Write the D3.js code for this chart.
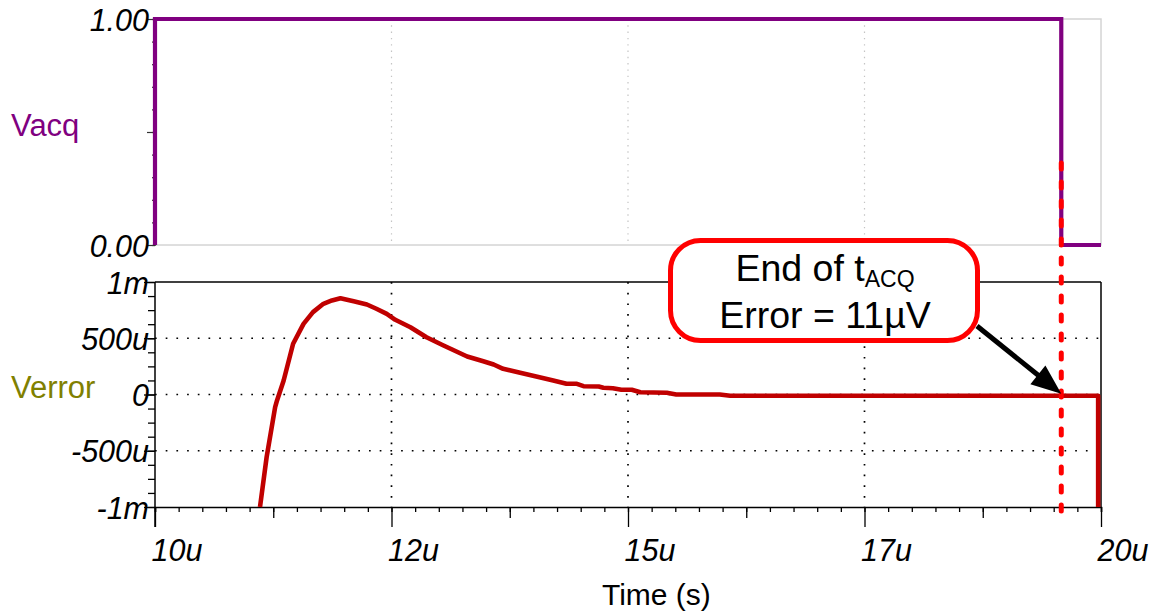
<!DOCTYPE html>
<html><head><meta charset="utf-8">
<script src="https://cdn.jsdelivr.net/npm/d3@7"></script>
<style>
html,body{margin:0;padding:0;background:#fff;}
svg{display:block;}
</style></head>
<body>
<svg id="c" width="1156" height="614"></svg>
<script>
// ---- data (time in µs, error in µV) ----
const vacqTime = [10, 10, 19.58, 19.58, 20];
const vacqValue = [0, 1, 1, 0, 0];
const verrTime = [11.11, 11.18, 11.27, 11.29, 11.36, 11.46, 11.57, 11.67, 11.78, 11.87, 11.96, 12.10, 12.24, 12.34, 12.45, 12.54, 12.70, 12.87, 13.05, 13.30, 13.47, 13.58, 13.68, 13.86, 14.03, 14.21, 14.35, 14.46, 14.53, 14.69, 14.74, 14.84, 14.93, 15.04, 15.13, 15.41, 15.51, 15.97, 16.08, 19.97, 19.97];
const verrValue = [-1000, -557, -113, -53, 124, 451, 628, 732, 806, 836, 856, 829, 800, 762, 717, 664, 598, 509, 436, 338, 296, 267, 228, 193, 160, 124, 95, 95, 74, 71, 60, 56, 42, 42, 20, 15, 0, 0, -11, -11, -1000];
const xTickValues = [10, 12.5, 15, 17.5, 20];
const xTickLabels = ["10u", "12u", "15u", "17u", "20u"];
const topTickValues = [0, 1];
const topTickLabels = ["0.00", "1.00"];
const botTickValues = [-1000, -500, 0, 500, 1000];
const botTickLabels = ["-1m", "-500u", "0", "500u", "1m"];
const tAcqEnd = 19.58;
const errorAtEnd = -11;

const svg = d3.select("#c");
const L = 155, R = 1101;
const x = d3.scaleLinear().domain([10, 20]).range([L, R]);
const yT = d3.scaleLinear().domain([0, 1]).range([245, 19]);
const yB = d3.scaleLinear().domain([-1000, 1000]).range([507, 282]);

const font = "'Liberation Sans', Arial, Helvetica, sans-serif";

// ---- top panel frame & grid ----
const gTop = svg.append("g");
gTop.append("rect").attr("x", L).attr("y", yT(1)).attr("width", R - L).attr("height", yT(0) - yT(1))
  .attr("fill", "none").attr("stroke", "#d4d4d4").attr("stroke-width", 1.5);
gTop.selectAll("line.vg").data(xTickValues.slice(1, 4)).enter().append("line")
  .attr("x1", d => x(d)).attr("x2", d => x(d)).attr("y1", yT(1)).attr("y2", yT(0))
  .attr("stroke", "#c4c4c4").attr("stroke-width", 1.2).attr("stroke-dasharray", "1.4,4.9");

// top left axis ticks
const topMinor = d3.range(0, 1.0001, 0.1);
gTop.append("g").attr("transform", `translate(${L},0)`)
  .call(d3.axisLeft(yT).tickValues(topMinor).tickSize(3).tickFormat(""))
  .call(g => { g.select(".domain").remove(); g.selectAll("line").attr("stroke", "#333").attr("stroke-width", 1.2); });
gTop.append("g").attr("transform", `translate(${L},0)`)
  .call(d3.axisLeft(yT).tickValues([0, 0.5, 1]).tickSize(8).tickFormat(""))
  .call(g => { g.select(".domain").attr("stroke", "#333"); g.selectAll("line").attr("stroke", "#333").attr("stroke-width", 1.2); });
gTop.selectAll("text.tl").data(topTickValues).enter().append("text")
  .attr("x", 149).attr("y", d => yT(d) + 12)
  .attr("text-anchor", "end").attr("font-family", font).attr("font-style", "italic")
  .attr("font-size", 30.5).attr("fill", "#000").text((d, i) => topTickLabels[i]);

// ---- bottom panel grid ----
const gBot = svg.append("g");
gBot.selectAll("line.hg").data([-500, 0, 500]).enter().append("line")
  .attr("x1", L).attr("x2", R).attr("y1", d => yB(d)).attr("y2", d => yB(d))
  .attr("stroke", "#000").attr("stroke-width", 1.7).attr("stroke-dasharray", "1.7,9");
gBot.selectAll("line.vg").data(xTickValues.slice(1, 4)).enter().append("line")
  .attr("x1", d => x(d)).attr("x2", d => x(d)).attr("y1", yB(1000)).attr("y2", yB(-1000))
  .attr("stroke", "#000").attr("stroke-width", 1.7).attr("stroke-dasharray", "1.7,9");
gBot.append("line").attr("x1", L).attr("x2", R).attr("y1", yB(1000)).attr("y2", yB(1000)).attr("stroke", "#000").attr("stroke-width", 1.5);
gBot.append("line").attr("x1", R).attr("x2", R).attr("y1", yB(1000)).attr("y2", yB(-1000)).attr("stroke", "#000").attr("stroke-width", 1.5);

// bottom left axis
gBot.append("g").attr("transform", `translate(${L},0)`)
  .call(d3.axisLeft(yB).tickValues(d3.range(-1000, 1001, 125)).tickSize(7).tickFormat(""))
  .call(g => { g.select(".domain").remove(); g.selectAll("line").attr("stroke", "#000").attr("stroke-width", 1.3); });
gBot.append("g").attr("transform", `translate(${L},0)`)
  .call(d3.axisLeft(yB).tickValues(botTickValues).tickSize(11).tickFormat(""))
  .call(g => { g.select(".domain").remove(); g.selectAll("line").attr("stroke", "#000").attr("stroke-width", 1.3); });
gBot.append("line").attr("x1", L).attr("x2", L).attr("y1", yB(1000)).attr("y2", 527).attr("stroke", "#000").attr("stroke-width", 1.5);
gBot.selectAll("text.bl").data(botTickValues).enter().append("text")
  .attr("x", 149).attr("y", d => yB(d) + 11.5)
  .attr("text-anchor", "end").attr("font-family", font).attr("font-style", "italic")
  .attr("font-size", 30.5).attr("fill", "#000").text((d, i) => botTickLabels[i]);

// bottom x axis
const xAxisY = yB(-1000);
const minorX = d3.range(10, 20.001, 0.25);
const midX = [11.25, 13.75, 16.25, 18.75];
gBot.append("g").attr("transform", `translate(0,${xAxisY})`)
  .call(d3.axisBottom(x).tickValues(minorX).tickSize(5).tickFormat(""))
  .call(g => { g.select(".domain").attr("stroke", "#000").attr("stroke-width", 1.5); g.selectAll("line").attr("stroke", "#000").attr("stroke-width", 1.3); });
gBot.append("g").attr("transform", `translate(0,${xAxisY})`)
  .call(d3.axisBottom(x).tickValues(midX).tickSize(11).tickFormat(""))
  .call(g => { g.select(".domain").remove(); g.selectAll("line").attr("stroke", "#000").attr("stroke-width", 1.3); });
gBot.append("g").attr("transform", `translate(0,${xAxisY})`)
  .call(d3.axisBottom(x).tickValues(xTickValues).tickSize(20).tickFormat((d, i) => xTickLabels[i]))
  .call(g => {
    g.select(".domain").remove();
    g.selectAll("line").attr("stroke", "#000").attr("stroke-width", 1.3);
    g.selectAll("text").attr("font-family", font).attr("font-style", "italic").attr("font-size", 30.5)
      .attr("fill", "#000").attr("text-anchor", "start").attr("x", -4).attr("y", 0).attr("dy", null)
      .attr("transform", "translate(0,54)");
  });

// axis titles
svg.append("text").attr("x", 11).attr("y", 136).attr("font-family", font).attr("font-size", 31)
  .attr("fill", "#800080").text("Vacq");
svg.append("text").attr("x", 11).attr("y", 398).attr("font-family", font).attr("font-size", 31)
  .attr("fill", "#808000").text("Verror");
svg.append("text").attr("x", x(15.3)).attr("y", 605).attr("text-anchor", "middle")
  .attr("font-family", font).attr("font-size", 30).attr("fill", "#000").text("Time (s)");

// ---- series ----
const vacqData = vacqTime.map((t, i) => [t, vacqValue[i]]);
svg.append("path").datum(vacqData)
  .attr("d", d3.line().x(d => x(d[0])).y(d => yT(d[1])))
  .attr("fill", "none").attr("stroke", "#800080").attr("stroke-width", 4.2).attr("stroke-linejoin", "miter");
const verrData = verrTime.map((t, i) => [t, verrValue[i]]);
svg.append("path").datum(verrData)
  .attr("d", d3.line().x(d => x(d[0])).y(d => yB(d[1])))
  .attr("fill", "none").attr("stroke", "#c00000").attr("stroke-width", 4.6).attr("stroke-linejoin", "round");

// ---- annotation ----
const ann = svg.append("g");
ann.append("rect").attr("x", 670.5).attr("y", 240.5).attr("width", 307).attr("height", 100).attr("rx", 30).attr("ry", 30)
  .attr("fill", "#fff").attr("stroke", "#ff0000").attr("stroke-width", 5);
const t1 = ann.append("text").attr("x", 825).attr("y", 281).attr("text-anchor", "middle")
  .attr("font-family", font).attr("font-size", 37.5).attr("fill", "#000");
t1.append("tspan").text("End of t");
t1.append("tspan").attr("dy", 6).attr("font-size", 23).text("ACQ");
ann.append("text").attr("x", 825).attr("y", 328).attr("text-anchor", "middle")
  .attr("font-family", font).attr("font-size", 37.5).attr("fill", "#000")
  .text("Error = 11µV");

// dashed marker line
svg.append("line").attr("x1", x(tAcqEnd)).attr("x2", x(tAcqEnd)).attr("y1", 163).attr("y2", 520)
  .attr("stroke", "#ff0000").attr("stroke-width", 5).attr("stroke-linecap", "round").attr("stroke-dasharray", "6,13");

// arrow
const tipX = x(tAcqEnd), tipY = yB(errorAtEnd) - 2;
const sx = 977, sy = 326;
const dx = tipX - sx, dy = tipY - sy, len = Math.hypot(dx, dy);
const ux = dx / len, uy = dy / len;
const hl = 30, hw = 12;
const bx = tipX - ux * hl, by = tipY - uy * hl;
svg.append("line").attr("x1", sx).attr("y1", sy).attr("x2", bx + ux * 2).attr("y2", by + uy * 2)
  .attr("stroke", "#000").attr("stroke-width", 5);
svg.append("path")
  .attr("d", `M${tipX},${tipY}L${bx - uy * hw},${by + ux * hw}L${bx + uy * hw},${by - ux * hw}Z`)
  .attr("fill", "#000");
</script>
</body></html>
